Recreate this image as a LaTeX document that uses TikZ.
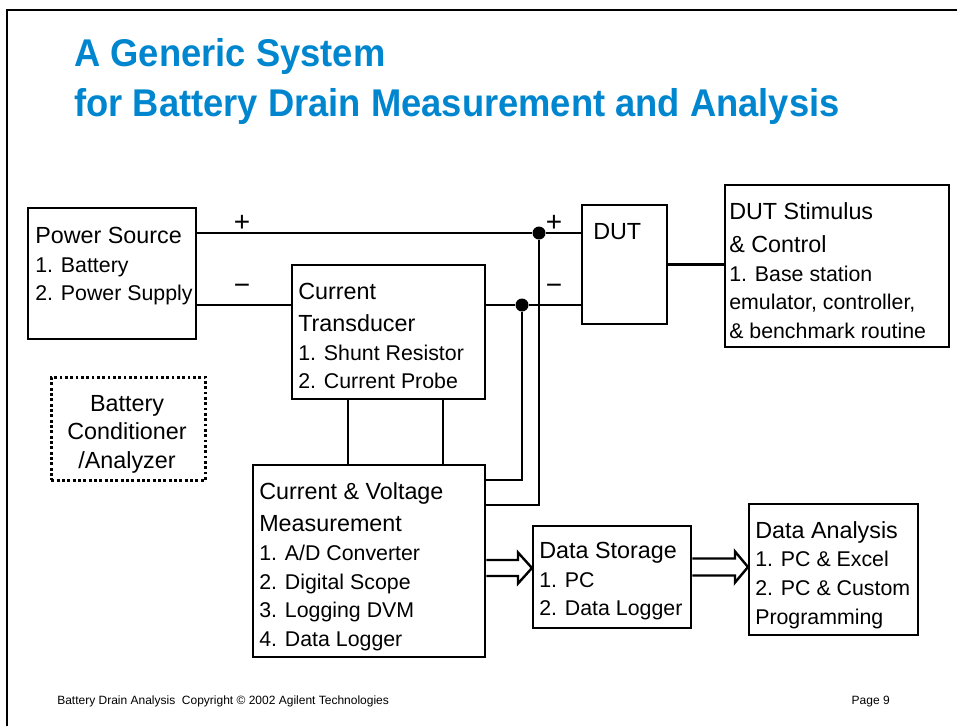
\documentclass[tikz,border=0pt]{standalone}
\usepackage{fontspec}
\setmainfont{Liberation Sans}
\newfontfamily\titlefont{Liberation Sans}[FakeStretch=0.94]
\usepackage{tikz}
\usetikzlibrary{calc}
\usepackage{xcolor}
\definecolor{slideblue}{RGB}{0,133,207}
\newcommand{\headsize}{\fontsize{17.5}{21.5}\selectfont}
\newcommand{\itemsize}{\fontsize{16}{21.5}\selectfont}

\begin{document}
\begin{tikzpicture}[x=0.75pt,y=-0.75pt,every node/.style={font=\itemsize,inner sep=0pt},box/.style={draw,line width=1.7pt,anchor=north west},txt/.style={anchor=north west,align=left},sign/.style={font=\fontsize{21}{21}\selectfont},wire/.style={line width=2.2pt},dot/.style={circle,fill=black,minimum size=9.75pt},hollow/.style={draw,line width=1.8pt,line join=miter},foot/.style={font=\fontsize{9}{9}\selectfont}]
\useasboundingbox (0,0) rectangle (957,726);
\draw[line width=1.5pt] (7,726) -- (7,10) -- (957,10);
\node[anchor=north west,align=left,font=\titlefont\bfseries\fontsize{29}{37.5}\selectfont,text=slideblue] (title) at (74,38) {A Generic System\\for Battery Drain Measurement and Analysis};
% blocks
\node[box,minimum width=126pt,minimum height=98.25pt] (power) at (27,207) {};
\node[box,minimum width=144.75pt,minimum height=100.5pt] (trans) at (291,264) {};
\node[box,minimum width=63.75pt,minimum height=89.25pt] (dut) at (581,204) {};
\node[box,minimum width=168pt,minimum height=121.5pt] (stim) at (724,184) {};
\node[box,line width=2.2pt,dash pattern=on 2.2pt off 1.8pt,minimum width=115.5pt,minimum height=77.25pt] (cond) at (50,376) {};
\node[box,minimum width=174pt,minimum height=144pt] (cvm) at (252,464) {};
\node[box,minimum width=118.5pt,minimum height=76.5pt] (store) at (532,525) {};
\node[box,minimum width=126.75pt,minimum height=98.25pt] (anal) at (748,503) {};
% block texts
\node[txt] (powertxt) at (35,227) {{\headsize Power Source}\\1. Battery\\2. Power Supply};
\node[txt] (transtxt) at (298,283) {{\headsize Current}\\[2.5pt]{\headsize Transducer}\\1. Shunt Resistor\\2. Current Probe};
\node[txt] (duttxt) at (593,223) {\headsize DUT};
\node[txt] (stimtxt) at (729,202) {{\headsize DUT Stimulus}\\[3.5pt]{\headsize \& Control}\\1. Base station\\emulator, controller,\\\& benchmark routine};
\node[anchor=north,align=center,font=\headsize] (condtxt) at (127,395) {Battery\\Conditioner\\/Analyzer};
\node[txt] (cvmtxt) at (259,482) {{\headsize Current \& Voltage}\\[3pt]{\headsize Measurement}\\1. A/D Converter\\2. Digital Scope\\3. Logging DVM\\4. Data Logger};
\node[txt] (storetxt) at (539,542) {{\headsize Data Storage}\\1. PC\\2. Data Logger};
\node[txt] (analtxt) at (755,521) {{\headsize Data Analysis}\\1. PC \& Excel\\2. PC \& Custom\\Programming};
% supply wiring
\node[dot] (jplus) at (539,233) {}; \node[dot] (jminus) at (522,305) {};
\draw[wire] (power.east |- jplus) -- (jplus) -- (dut.west |- jplus);
\draw[wire] (power.east |- jminus) -- (trans.west |- jminus); \draw[wire] (trans.east |- jminus) -- (jminus) -- (dut.west |- jminus);
\node[sign] (p1) at (242,223) {+}; \node[sign] (m1) at (242,289) {−}; \node[sign] (p2) at (554,223) {+}; \node[sign] (m2) at (554,289) {−};
\draw[wire] (dut.east) -- (stim.west |- dut.east);
% measurement wiring
\draw[wire] ([xshift=42.75pt]trans.south west) -- ([xshift=42.75pt]trans.south west |- cvm.north);
\draw[wire] ([xshift=114pt]trans.south west) -- ([xshift=114pt]trans.south west |- cvm.north);
\draw[wire] (jminus) |- ([yshift=-12pt]cvm.north east);
\draw[wire] (jplus) |- ([yshift=-30.75pt]cvm.north east);
% data flow
\coordinate (a1s) at (cvm.east |- 0,568); \coordinate (a1e) at (store.west |- 0,568);
\draw[hollow] ($(a1s)+(0,-8)$) -- ($(a1e)+(-14,-8)$) -- ($(a1e)+(-14,-15.5)$) -- (a1e) -- ($(a1e)+(-14,15.5)$) -- ($(a1e)+(-14,8)$) -- ($(a1s)+(0,8)$);
\coordinate (a2s) at (store.east |- 0,567); \coordinate (a2e) at (anal.west |- 0,567);
\draw[hollow] ($(a2s)+(0,-8.5)$) -- ($(a2e)+(-13,-8.5)$) -- ($(a2e)+(-13,-15.5)$) -- (a2e) -- ($(a2e)+(-13,15.5)$) -- ($(a2e)+(-13,8.5)$) -- ($(a2s)+(0,8.5)$);
\node[foot,anchor=base west] (footl) at (57,704) {Battery Drain Analysis\ \ Copyright © 2002 Agilent Technologies};
\node[foot,anchor=base east] (page) at (890,704) {Page 9};
\end{tikzpicture}
\end{document}
